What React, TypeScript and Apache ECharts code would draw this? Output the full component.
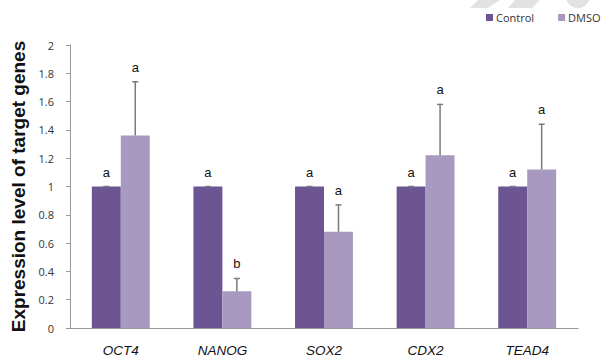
import React, { useEffect, useRef } from "react";
import * as echarts from "echarts";

const categories = ["OCT4", "NANOG", "SOX2", "CDX2", "TEAD4"];
const controlValues = [1, 1, 1, 1, 1];
const dmsoValues = [1.36, 0.26, 0.68, 1.22, 1.12];
const controlErrors = [0, 0, 0, 0, 0];
const dmsoErrors = [0.38, 0.09, 0.19, 0.36, 0.32];
const controlLetters = ["a", "a", "a", "a", "a"];
const dmsoLetters = ["a", "b", "a", "a", "a"];
const yTicks = [0, 0.2, 0.4, 0.6, 0.8, 1, 1.2, 1.4, 1.6, 1.8, 2];

const CONTROL_COLOR = "#6d5593";
const DMSO_COLOR = "#a899c0";
const GAP = 0.43;

function errorSeries(values: number[], errors: number[], letters: string[], side: number) {
  return {
    type: "custom",
    silent: true,
    z: 5,
    data: values.map((v, i) => [i, v, v + errors[i], letters[i]]),
    renderItem: (params: any, api: any) => {
      const cat = api.value(0);
      const base = api.coord([cat, api.value(1)]);
      const top = api.coord([cat, api.value(2)]);
      const catW = api.size([1, 0])[0];
      const bw = (catW * (1 - GAP)) / 2;
      const x = base[0] + (side * bw) / 2;
      const cap = 3;
      return {
        type: "group",
        children: [
          {
            type: "line",
            shape: { x1: x, y1: base[1], x2: x, y2: top[1] },
            style: { stroke: "#7a7a7a", lineWidth: 1.5 },
          },
          {
            type: "line",
            shape: { x1: x - cap, y1: top[1], x2: x + cap, y2: top[1] },
            style: { stroke: "#7a7a7a", lineWidth: 1.5 },
          },
          {
            type: "text",
            x: x,
            y: top[1] - 8,
            style: {
              text: api.value(3),
              fill: "#111",
              font: "13px 'Liberation Sans', Arial, sans-serif",
              align: "center",
              verticalAlign: "bottom",
            },
          },
        ],
      };
    },
  };
}

export default function App() {
  const ref = useRef<HTMLDivElement>(null);
  useEffect(() => {
    if (!ref.current) return;
    const chart = echarts.init(ref.current, null, { renderer: "svg" });
    chart.setOption({
      animation: false,
      backgroundColor: "#ffffff",
      graphic: [
        { type: "polygon", shape: { points: [[478, 0], [500, 0], [488, 8], [470, 8]] }, style: { fill: "#e2e2e2" } },
        { type: "polygon", shape: { points: [[515, 0], [540, 0], [532, 8], [508, 8]] }, style: { fill: "#e2e2e2" } },
        { type: "circle", shape: { cx: 578, cy: -4, r: 12 }, style: { fill: "#e2e2e2" } },
      ],
      legend: {
        top: 12,
        left: 486,
        width: 300,
        padding: 0,
        itemWidth: 7,
        itemHeight: 7,
        itemGap: 24,
        icon: "rect",
        textStyle: { fontSize: 11, color: "#333", fontFamily: "'Open Sans', sans-serif", padding: [0, 0, 0, -2] },
        data: ["Control", "DMSO"],
      },
      grid: { left: 70, right: 28, top: 45, bottom: 31 },
      xAxis: {
        type: "category",
        data: categories,
        axisLine: { lineStyle: { color: "#999", width: 1 } },
        axisTick: { show: false },
        axisLabel: {
          fontStyle: "italic",
          fontSize: 13.5,
          color: "#111",
          margin: 15,
          fontFamily: "'Liberation Sans', Arial, sans-serif",
        },
      },
      yAxis: {
        type: "value",
        min: 0,
        max: 2,
        interval: 0.2,
        name: "Expression level of target genes",
        nameLocation: "middle",
        nameGap: 42,
        nameTextStyle: {
          fontSize: 19,
          fontWeight: "bold",
          color: "#111",
          fontFamily: "'Liberation Sans', Arial, sans-serif",
        },
        axisLine: { show: true, lineStyle: { color: "#999" } },
        axisTick: { show: true, length: 4, lineStyle: { color: "#999" } },
        splitLine: { show: false },
        axisLabel: {
          fontSize: 11,
          color: "#333",
          margin: 16,
          fontFamily: "'Open Sans', sans-serif",
          formatter: (v: number) => (yTicks.includes(Math.round(v * 10) / 10) ? String(Math.round(v * 10) / 10) : ""),
        },
      },
      series: [
        {
          name: "Control",
          type: "bar",
          data: controlValues,
          itemStyle: { color: CONTROL_COLOR },
          barGap: "0%",
          barCategoryGap: GAP * 100 + "%",
        },
        {
          name: "DMSO",
          type: "bar",
          data: dmsoValues,
          itemStyle: { color: DMSO_COLOR },
          barGap: "0%",
          barCategoryGap: GAP * 100 + "%",
        },
        errorSeries(controlValues, controlErrors, controlLetters, -1),
        errorSeries(dmsoValues, dmsoErrors, dmsoLetters, 1),
      ],
    });
    return () => chart.dispose();
  }, []);
  return <div ref={ref} style={{ width: 606, height: 359, position: "absolute", left: 0, top: 0 }} />;
}
